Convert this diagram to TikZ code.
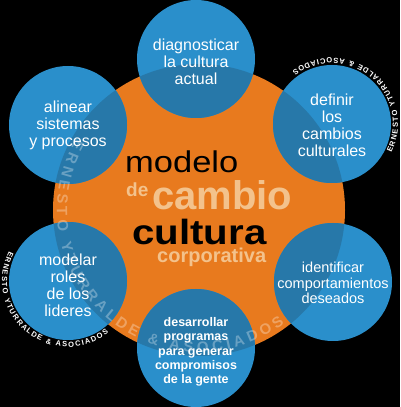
\documentclass[tikz,border=0pt]{standalone}
\usepackage{fontspec}
\setmainfont{Liberation Sans}
\usepackage{xcolor}
\usepackage{graphicx}
\usetikzlibrary{calc,decorations.text}
\definecolor{cambionaranja}{HTML}{E87A1E}
\definecolor{cambioazul}{HTML}{2A8FCB}
\definecolor{cambiohondo}{HTML}{2778A9}
\definecolor{cambioclaro}{HTML}{F3C28C}

\begin{document}
\begin{tikzpicture}[
    x=1pt,y=1pt,
    etapa/.style  = {text=white,align=center,font=\fontsize{16}{17}\selectfont},
    etapachica/.style = {etapa,font=\fontsize{14.5}{15.5}\selectfont},
    etapamini/.style  = {etapa,font=\bfseries\fontsize{12.5}{14.3}\selectfont},
    titulo/.style = {anchor=base west,inner sep=0pt},
    firma/.style  = {decorate,decoration={text along path,text align={fit to path},
                     text={|\bfseries\fontsize{7.5}{7.5}\selectfont\color{white}|ERNESTO YTURRALDE {\&} ASOCIADOS}}},
  ]

  \fill[black] (0,0) rectangle (400,407);
  \useasboundingbox (0,0) rectangle (400,407);

  % centros
  \coordinate (nucleo) at (199,197);
  \coordinate (diag)   at (196,348);
  \coordinate (defin)  at (332,283);
  \coordinate (ident)  at (333,125);
  \coordinate (desar)  at (196,59);
  \coordinate (model)  at (68,126);
  \coordinate (alin)   at (68,282);

  \fill[cambionaranja] (nucleo) circle (146);
  \foreach \c in {diag,defin,ident,desar,model,alin}
    \fill[cambioazul] (\c) circle (59);
  \begin{scope}
    \clip (nucleo) circle (146);
    \foreach \c in {diag,defin,ident,desar,model,alin}
      \fill[cambiohondo] (\c) circle (59);
  \end{scope}

  % marca de agua
  \begin{scope}[opacity=0.3]
    \path[decorate,decoration={text along path,text align={fit to path},
          text={|\bfseries\fontsize{15}{15}\selectfont\color{white}|ERNESTO YTURRALDE {\&} ASOCIADOS}}]
      ([shift={(150:142)}]nucleo) arc[start angle=150,end angle=307,radius=142];
  \end{scope}

  \node[etapa] (tdiag)  at ($(diag)+(0,-3)$)  {diagnosticar\\la cultura\\actual};
  \node[etapa] (tdefin) at ($(defin)+(0,-1)$) {definir\\los\\cambios\\culturales};
  \node[etapa] (talin)  at ($(alin)+(0,0)$)   {alinear\\sistemas\\y procesos};
  \node[etapa] (tmodel) at ($(model)+(0,-4)$) {modelar\\roles\\de los\\lideres};
  \node[etapachica] (tident) at ($(ident)+(0,-1)$) {identificar\\comportamientos\\deseados};
  \node[etapamini] (tdesar) at ($(desar)+(0,-4)$) {desarrollar\\programas\\para generar\\compromisos\\de la gente};

  \node[titulo,font=\fontsize{30}{30}\selectfont] (tmodelo) at (125,234)
       {\scalebox{1.15}[1]{modelo}};
  \node[titulo,font=\bfseries\fontsize{19}{19}\selectfont,text=cambioclaro] (tde) at (126,210) {de};
  \node[titulo,font=\bfseries\fontsize{40}{40}\selectfont,text=cambioclaro] (tcambio) at (152,197) {cambio};
  \node[titulo,font=\bfseries\fontsize{35}{35}\selectfont] (tcultura) at (132,162)
       {\scalebox{1.15}[1]{cultura}};
  \node[titulo,font=\bfseries\fontsize{20}{20}\selectfont,text=cambioclaro] (tcorp) at (157,144) {corporativa};

  % firmas
  \path[firma] ([shift={(-26:66)}]defin) arc[start angle=-26,end angle=127,radius=66];
  \path[firma] ([shift={(153:66)}]model) arc[start angle=153,end angle=308,radius=66];

\end{tikzpicture}
\end{document}
